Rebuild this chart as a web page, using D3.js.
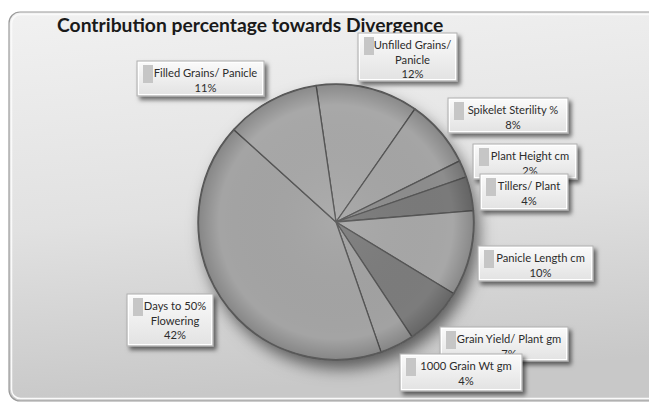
<!DOCTYPE html>
<html>
<head>
<meta charset="utf-8">
<script src="https://cdn.jsdelivr.net/npm/d3@7"></script>
<style>
  body { margin: 0; background: #fff; }
  text { font-family: Lato, "Open Sans", sans-serif; }
</style>
</head>
<body>
<div id="chart"></div>
<script>
const width = 649, height = 405

// clockwise from the top of the pie
const traits = ["Unfilled Grains/\nPanicle", "Spikelet Sterility %", "Plant Height cm", "Tillers/ Plant",
  "Panicle Length cm", "Grain Yield/ Plant gm", "1000 Grain Wt gm", "Days to 50%\nFlowering", "Filled Grains/ Panicle"]
const contribution = [12, 8, 2, 4, 10, 7, 4, 42, 11]
const shades = ["#a8a8a8", "#a5a5a5", "#8d8d8d", "#7a7a7a", "#a7a7a7", "#7c7c7c", "#a2a2a2", "#a4a4a4", "#a8a8a8"]

// the label boxes were dragged by hand in the original chart: x, y, w, h
const boxes = [[358,33,99,48],[448,98,120,35],[473,144,104,35],[480,174,88,36],[478,246,115,35],
  [440,327,128,34],[400,354,122,37],[127,294,86,52],[137,61,127,35]]

const svg = d3.select("#chart").append("svg")
    .attr("width", width)
    .attr("height", height)

const defs = svg.append("defs")

var bg = defs.append("linearGradient").attr("id", "bg").attr("x1", 0).attr("y1", 0).attr("x2", 0.15).attr("y2", 1)
bg.append("stop").attr("offset", "0%").attr("stop-color", "#f1f1f1")
bg.append("stop").attr("offset", "55%").attr("stop-color", "#e1e1e1")
bg.append("stop").attr("offset", "100%").attr("stop-color", "#c8c8c8")

var boxfill = defs.append("linearGradient").attr("id", "boxfill").attr("x1", 0).attr("y1", 0).attr("x2", 0).attr("y2", 1)
boxfill.append("stop").attr("offset", "0%").attr("stop-color", "#fbfbfb")
boxfill.append("stop").attr("offset", "100%").attr("stop-color", "#e2e2e2")

var rim = defs.append("radialGradient").attr("id", "rim")
rim.append("stop").attr("offset", "0%").attr("stop-color", "#fff").attr("stop-opacity", 0.06)
rim.append("stop").attr("offset", "85%").attr("stop-color", "#000").attr("stop-opacity", 0)
rim.append("stop").attr("offset", "100%").attr("stop-color", "#000").attr("stop-opacity", 0.18)

var sh = defs.append("filter").attr("id", "pieshadow").attr("x", "-20%").attr("y", "-20%").attr("width", "150%").attr("height", "150%")
sh.append("feDropShadow").attr("dx", 5).attr("dy", 9).attr("stdDeviation", 8)
    .attr("flood-color", "#000").attr("flood-opacity", 0.55)

var bsh = defs.append("filter").attr("id", "boxshadow").attr("x", "-20%").attr("y", "-30%").attr("width", "150%").attr("height", "180%")
bsh.append("feDropShadow").attr("dx", 3).attr("dy", 3.5).attr("stdDeviation", 2)
    .attr("flood-color", "#000").attr("flood-opacity", 0.55)

// chart area frame, runs off the right side like the original
svg.append("rect")
    .attr("x", 9).attr("y", 12).attr("width", 700).attr("height", 389)
    .attr("rx", 11)
    .attr("fill", "url(#bg)")
    .attr("stroke", "#9a9a9a")
    .attr("stroke-width", 1.2)
svg.append("rect")
    .attr("x", 11.5).attr("y", 14.5).attr("width", 700).attr("height", 384)
    .attr("rx", 9)
    .attr("fill", "none")
    .attr("stroke", "#fafafa")
    .attr("stroke-width", 1.5)

svg.append("text")
    .attr("x", 57).attr("y", 32)
    .attr("font-size", 19.3)
    .attr("font-weight", "bold")
    .attr("fill", "#1a1a1a")
    .text("Contribution percentage towards Divergence")

const cx = 336, cy = 222, radius = 138
const start = -8.3 * Math.PI / 180

const pie = d3.pie().sort(null)
    .startAngle(start)
    .endAngle(start + 2 * Math.PI)
const arc = d3.arc().innerRadius(0).outerRadius(radius)

const g = svg.append("g").attr("transform", "translate(" + cx + "," + cy + ")")

g.append("circle").attr("r", radius)
    .attr("fill", "#a0a0a0")
    .attr("filter", "url(#pieshadow)")

g.selectAll("path.slice")
    .data(pie(contribution))
    .enter()
    .append("path")
    .attr("class", "slice")
    .attr("d", arc)
    .attr("fill", function(d, i){ return shades[i] })
    .attr("stroke", "#555")
    .attr("stroke-width", 1.3)
    .attr("stroke-linejoin", "round")

g.append("circle").attr("r", radius - 0.5)
    .attr("fill", "url(#rim)")
    .attr("stroke", "#5a5a5a")
    .attr("stroke-width", 1.2)

// data labels
const lab = svg.append("g").selectAll("g")
    .data(traits)
    .enter()
    .append("g")
    .attr("transform", function(d, i){ return "translate(" + boxes[i][0] + "," + boxes[i][1] + ")" })

lab.append("rect")
    .attr("width", function(d, i){ return boxes[i][2] })
    .attr("height", function(d, i){ return boxes[i][3] })
    .attr("fill", "url(#boxfill)")
    .attr("stroke", "#b0b0b0")
    .attr("stroke-width", 1)
    .attr("filter", "url(#boxshadow)")
lab.append("rect")
    .attr("x", 1.5).attr("y", 1.5)
    .attr("width", function(d, i){ return boxes[i][2] - 3 })
    .attr("height", function(d, i){ return boxes[i][3] - 3 })
    .attr("fill", "none")
    .attr("stroke", "#ffffff")
    .attr("stroke-width", 1)

lab.append("rect")
    .attr("x", 6).attr("y", 4)
    .attr("width", 10).attr("height", 18)
    .attr("fill", "#c6c6c6")

lab.each(function(d, i){
    var lines = d.split("\n").concat([contribution[i] + "%"])
    var t = d3.select(this).append("text")
        .attr("font-size", 11.2)
        .attr("fill", "#2c2c2c")
        .attr("text-anchor", "middle")
    lines.forEach(function(s, k){
        t.append("tspan")
            .attr("x", boxes[i][2] / 2 + 5)
            .attr("y", 16 + k * 14.5)
            .text(s)
    })
})
</script>
</body>
</html>
